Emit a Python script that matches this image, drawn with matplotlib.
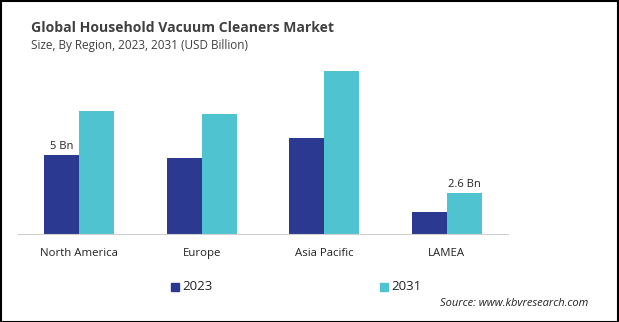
import matplotlib.pyplot as plt
import numpy as np
from matplotlib.patches import Rectangle

plt.rcParams['font.family'] = ['Open Sans', 'DejaVu Sans']

# Data (USD Billion)
regions = ['North America', 'Europe', 'Asia Pacific', 'LAMEA']
years = ['2023', '2031']
values_2023 = [5.0, 4.8, 6.1, 1.4]
values_2031 = [7.8, 7.6, 10.3, 2.6]

c2023 = '#2B3990'
c2031 = '#4FC3D0'

fig = plt.figure(figsize=(6.19, 3.22), dpi=100)
W, H = 619, 322
ax = fig.add_axes([18 / W, 1 - 234 / H, (508 - 18) / W, (234 - 60) / H])

x = np.arange(len(regions))
w = 0.285
ax.bar(x - w / 2, values_2023, w, color=c2023, label=years[0])
ax.bar(x + w / 2, values_2031, w, color=c2031, label=years[1])

ax.set_xlim(-0.5, 3.5)
ax.set_ylim(0, 11.0)
for s in ['top', 'right', 'left']:
    ax.spines[s].set_visible(False)
ax.spines['bottom'].set_color('#D0D0D0')
ax.set_yticks([])
ax.set_xticks(x)
ax.set_xticklabels(regions, fontsize=8.2, color='#222222')
ax.tick_params(axis='x', length=0, pad=10)

# value labels on first and last groups
ax.annotate('5 Bn', (x[0] - w / 2, values_2023[0]), xytext=(0, 2),
            textcoords='offset points', ha='center', va='bottom', fontsize=8, color='#222222')
ax.annotate('2.6 Bn', (x[3] + w / 2, values_2031[3]), xytext=(0, 2),
            textcoords='offset points', ha='center', va='bottom', fontsize=8, color='#222222')

fig.text(31 / W, 1 - 28 / H, 'Global Household Vacuum Cleaners Market', fontsize=10.1,
         fontweight='bold', color='#404040', va='center')
fig.text(31 / W, 1 - 46 / H, 'Size, By Region, 2023, 2031 (USD Billion)', fontsize=8.5,
         color='#404040', va='center')

# legend
fig.patches.append(Rectangle((171 / W, 1 - 291 / H), 8 / W, 8 / H, transform=fig.transFigure,
                             color=c2023))
fig.text(182 / W, 1 - 287 / H, years[0], fontsize=9.5, color='#222222', va='center')
fig.patches.append(Rectangle((380 / W, 1 - 291 / H), 8 / W, 8 / H, transform=fig.transFigure,
                             color=c2031))
fig.text(391 / W, 1 - 287 / H, years[1], fontsize=9.5, color='#222222', va='center')

fig.text(588 / W, 1 - 303 / H, 'Source: www.kbvresearch.com', fontsize=8, style='italic',
         color='#222222', ha='right', va='center')

# outer frame
fig.patches.append(Rectangle((0.5 / W, 0.5 / H), 1 - 1.5 / W, 1 - 1.5 / H, transform=fig.transFigure,
                             fill=False, edgecolor='black', linewidth=1.5))

fig.savefig('out.png', dpi=100)
